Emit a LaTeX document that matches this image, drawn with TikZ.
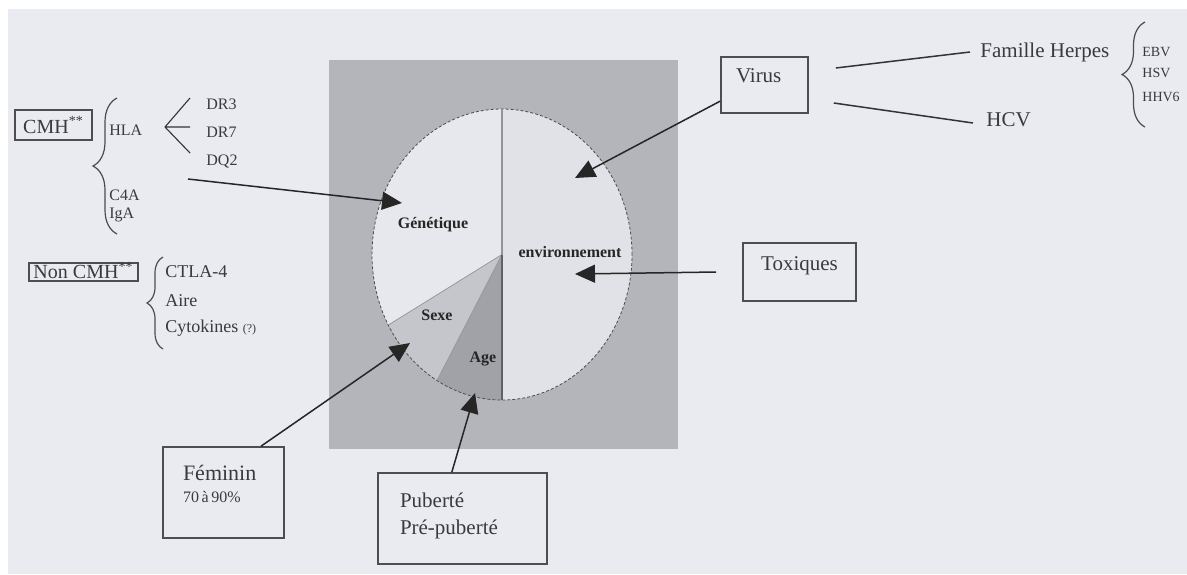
\documentclass[tikz,border=0pt]{standalone}
\usepackage{fontspec}
\setmainfont{Liberation Serif}
\usetikzlibrary{arrows.meta,positioning,calc,decorations.pathreplacing}
\definecolor{autoback}{HTML}{EAEBF0}
\definecolor{autoframe}{HTML}{B4B5BA}
\definecolor{autopie}{HTML}{E7E8ED}
\definecolor{autoenv}{HTML}{E1E2E7}
\definecolor{autosexe}{HTML}{C5C6CB}
\definecolor{autoage}{HTML}{A1A2A7}
\definecolor{autoink}{HTML}{3A3A3E}

\begin{document}
\begin{tikzpicture}[x=0.5pt,y=-0.5pt,
    box/.style  = {rectangle,draw=autoink!90,line width=0.8pt,text=autoink,inner sep=1pt},
    txt/.style  = {anchor=west,inner sep=0pt,text=autoink},
    lab/.style  = {font=\bfseries\fontsize{8}{9}\selectfont,text=black!85,inner sep=0pt},
    fl/.style   = {-{Triangle[length=10pt,width=9pt]},black!85,line width=0.75pt},
    ln/.style   = {black!80,line width=0.75pt},
    br/.style   = {decorate,decoration={brace,amplitude=#1},black!70,line width=0.6pt},
  ]

  % fond et cadre gris
  \fill[white] (0,0) rectangle (1187,574);
  \fill[autoback] (8,9) rectangle (1187,574);
  \useasboundingbox (0,0) rectangle (1187,574);
  \fill[autoframe] (329,60) rectangle (678,449);

  % camembert
  \coordinate (c) at (502,254.5);
  \path (c) ++(90:65pt and 72.75pt) coordinate (ptop)
        (c) ++(270:65pt and 72.75pt) coordinate (pbot)
        (c) ++(209:65pt and 72.75pt) coordinate (psexe)
        (c) ++(240:65pt and 72.75pt) coordinate (pAge);
  \fill[autopie] (c) -- (ptop) arc[start angle=90,end angle=209,x radius=65pt,y radius=72.75pt] -- cycle;
  \fill[autoenv] (c) -- (ptop) arc[start angle=90,end angle=-90,x radius=65pt,y radius=72.75pt] -- cycle;
  \fill[autosexe] (c) -- (psexe) arc[start angle=209,end angle=240,x radius=65pt,y radius=72.75pt] -- cycle;
  \fill[autoage] (c) -- (pAge) arc[start angle=240,end angle=270,x radius=65pt,y radius=72.75pt] -- cycle;
  \draw[black!70,dash pattern=on 1.5pt off 1pt,line width=0.4pt] (c) ellipse[x radius=65pt,y radius=72.75pt];
  \draw[black!40,line width=0.4pt] (c) -- (psexe) (c) -- (pAge);
  \draw[black!42,line width=0.9pt] (ptop) -- (c);
  \draw[black!62,line width=0.9pt] (c) -- (pbot);

  \node[lab] (gen)  at (433,225) {Génétique};
  \node[lab] (env)  at (570,252) {environnement};
  \node[lab] (sexe) at (437,315) {Sexe};
  \node[lab] (age)  at (483,359) {Age};

  % facteurs genetiques
  \node[box,font=\fontsize{10}{12}\selectfont,minimum width=38.5pt,minimum height=15pt] (cmh) at (53.5,125)
       {CMH\textsuperscript{**}};
  \draw[br=12pt] (117,234) -- (117,98);
  \node[txt,font=\fontsize{8}{9}\selectfont] (hla) at (109,130) {HLA};
  \node[txt,font=\fontsize{8}{9}\selectfont] (c4a) at (109,195) {C4A};
  \node[txt,font=\fontsize{8}{9}\selectfont] (iga) at (109,215) {IgA};
  \coordinate (fan) at (165,127);
  \draw[ln,line width=0.55pt] (fan) -- ++(25,-29) (fan) -- ++(25,0) (fan) -- ++(25,26);
  \node[txt,font=\fontsize{8}{9}\selectfont] (dr3) at (206,104) {DR3};
  \node[txt,font=\fontsize{8}{9}\selectfont] (dr7) at (206,132) {DR7};
  \node[txt,font=\fontsize{8}{9}\selectfont] (dq2) at (206,161) {DQ2};

  \node[box,font=\fontsize{10}{12}\selectfont,minimum width=54.5pt,minimum height=9pt,inner sep=0.5pt,
        text height=6.8pt,text depth=0.5pt] (noncmh) at (83.5,272) {Non CMH\textsuperscript{**}};
  \draw[br=8pt] (163,349) -- (163,257);
  \node[txt,font=\fontsize{9}{11}\selectfont] (ctla) at (165,272) {CTLA-4};
  \node[txt,font=\fontsize{9}{11}\selectfont] (aire) at (165,301) {Aire};
  \node[txt,font=\fontsize{9}{11}\selectfont] (cyto) at (165,328)
       {Cytokines {\fontsize{6}{7}\selectfont(?)}};

  % virus
  \node[box,font=\fontsize{10.5}{12}\selectfont,align=left,text width=28.5pt,inner xsep=7.5pt,
        inner ysep=4.5pt,text height=8pt,text depth=11pt] (virus) at (764.5,85) {Virus};
  \node[txt,font=\fontsize{10.5}{12}\selectfont] (herpes) at (980,52) {Famille Herpes};
  \node[txt,font=\fontsize{10.5}{12}\selectfont] (hcv) at (986,120) {HCV};
  \draw[ln] ($(virus.east)+(27,-17)$) -- ([xshift=-5pt]herpes.west);
  \draw[ln] ($(virus.east)+(25,18)$) -- ($(hcv.west)+(-13,3)$);
  \draw[br=11.5pt] (1145,127) -- (1145,22);
  \node[txt,font=\fontsize{7}{8}\selectfont] (ebv)  at (1142,52) {EBV};
  \node[txt,font=\fontsize{7}{8}\selectfont] (hsv)  at (1142,73) {HSV};
  \node[txt,font=\fontsize{7}{8}\selectfont] (hhv6) at (1142,97) {HHV6};

  % toxiques
  \node[box,font=\fontsize{10.5}{12}\selectfont,minimum width=56.5pt,inner ysep=5.5pt,
        text height=8pt,text depth=10pt] (toxiques) at (799.5,272) {Toxiques};

  % sexe et age
  \node[box,font=\fontsize{11}{13}\selectfont,align=left,text width=40.5pt,inner xsep=10pt,
        inner ysep=8.5pt,text height=8pt,text depth=20.5pt] (feminin) at (223.5,492.5)
       {Féminin\\[-2pt]{\fontsize{8}{10}\selectfont 70\,à\,90\%}};
  \node[box,font=\fontsize{10.5}{13.5}\selectfont,align=left,text width=62.5pt,inner xsep=11pt,
        inner ysep=9pt,text height=8pt,text depth=19.5pt] (puberte) at (462.5,518.5)
       {Puberté\\Pré-puberté};

  % fleches vers le camembert
  \coordinate (genFrom) at (188,179);
  \coordinate (genTip)  at (402,203);
  \coordinate (virTip)  at (575,178);
  \coordinate (toxTip)  at (575,274);
  \coordinate (femTip)  at (410,343);
  \coordinate (pubTip)  at (475,393);
  \draw[fl] (genFrom) -- (genTip);
  \draw[fl] (virus.200) -- (virTip);
  \draw[fl] ([xshift=-13pt]toxiques.west) -- (toxTip);
  \draw[fl] (feminin.51) -- (femTip);
  \draw[fl] (puberte.103) -- (pubTip);

\end{tikzpicture}
\end{document}
